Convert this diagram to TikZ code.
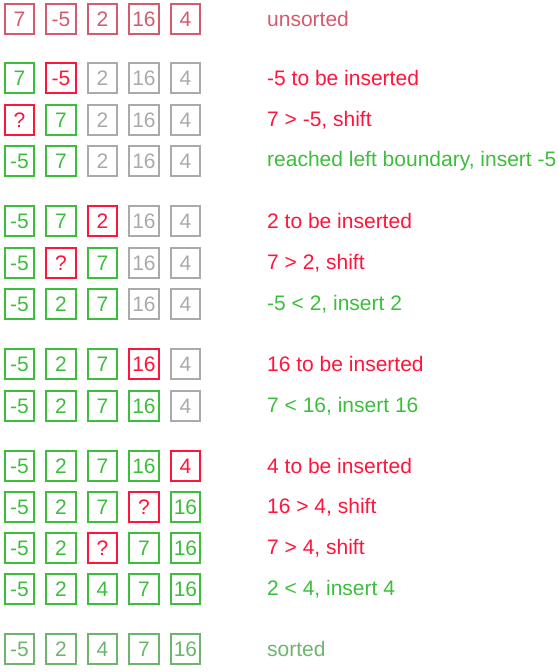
\documentclass[tikz,border=0pt]{standalone}
\usepackage{fontspec}
\setmainfont{Liberation Sans}
\definecolor{oldred}{RGB}{212,90,110}
\definecolor{hotred}{RGB}{255,20,60}
\definecolor{donegreen}{RGB}{60,190,60}
\definecolor{idlegray}{RGB}{170,170,170}
\definecolor{finalgreen}{RGB}{110,180,110}
\tikzset{
  cell/.style={draw, line width=1.6pt, minimum size=29.5pt, inner sep=0pt},
  note/.style={anchor=west, inner sep=0pt},
  old/.style={draw=oldred, text=oldred},
  hot/.style={draw=hotred, text=hotred},
  done/.style={draw=donegreen, text=donegreen},
  idle/.style={draw=idlegray, text=idlegray},
  final/.style={draw=finalgreen, text=finalgreen}
}
\begin{document}
\begin{tikzpicture}[x=1pt, y=-1pt, font=\fontsize{21}{25}\selectfont]
      \useasboundingbox (0,0) rectangle (558,672);
      % unsorted
      \draw
        (19.5,19) node[cell,old] (a0){7}
        (61,19) node[cell,old] (a1){-5}
        (102.5,19) node[cell,old] (a2){2}
        (144,19) node[cell,old] (a3){16}
        (185.5,19) node[cell,old] (a4){4}
        (267,19) node[note,text=oldred] (a){unsorted};
      % insert -5
      \draw
        (19.5,78) node[cell,done] (b0){7}
        (61,78) node[cell,hot] (b1){-5}
        (102.5,78) node[cell,idle] (b2){2}
        (144,78) node[cell,idle] (b3){16}
        (185.5,78) node[cell,idle] (b4){4}
        (267,78) node[note,text=hotred] (b){-5 to be inserted};
      \draw
        (19.5,120) node[cell,hot] (c0){?}
        (61,120) node[cell,done] (c1){7}
        (102.5,120) node[cell,idle] (c2){2}
        (144,120) node[cell,idle] (c3){16}
        (185.5,120) node[cell,idle] (c4){4}
        (267,120) node[note,text=hotred] (c){7 > -5, shift};
      \draw
        (19.5,161) node[cell,done] (d0){-5}
        (61,161) node[cell,done] (d1){7}
        (102.5,161) node[cell,idle] (d2){2}
        (144,161) node[cell,idle] (d3){16}
        (185.5,161) node[cell,idle] (d4){4}
        (267,161) node[note,text=donegreen] (d){reached left boundary, insert -5};
      % insert 2
      \draw
        (19.5,221) node[cell,done] (e0){-5}
        (61,221) node[cell,done] (e1){7}
        (102.5,221) node[cell,hot] (e2){2}
        (144,221) node[cell,idle] (e3){16}
        (185.5,221) node[cell,idle] (e4){4}
        (267,221) node[note,text=hotred] (e){2 to be inserted};
      \draw
        (19.5,263) node[cell,done] (f0){-5}
        (61,263) node[cell,hot] (f1){?}
        (102.5,263) node[cell,done] (f2){7}
        (144,263) node[cell,idle] (f3){16}
        (185.5,263) node[cell,idle] (f4){4}
        (267,263) node[note,text=hotred] (f){7 > 2, shift};
      \draw
        (19.5,304) node[cell,done] (g0){-5}
        (61,304) node[cell,done] (g1){2}
        (102.5,304) node[cell,done] (g2){7}
        (144,304) node[cell,idle] (g3){16}
        (185.5,304) node[cell,idle] (g4){4}
        (267,304) node[note,text=donegreen] (g){-5 < 2, insert 2};
      % insert 16
      \draw
        (19.5,364) node[cell,done] (h0){-5}
        (61,364) node[cell,done] (h1){2}
        (102.5,364) node[cell,done] (h2){7}
        (144,364) node[cell,hot] (h3){16}
        (185.5,364) node[cell,idle] (h4){4}
        (267,364) node[note,text=hotred] (h){16 to be inserted};
      \draw
        (19.5,406) node[cell,done] (i0){-5}
        (61,406) node[cell,done] (i1){2}
        (102.5,406) node[cell,done] (i2){7}
        (144,406) node[cell,done] (i3){16}
        (185.5,406) node[cell,idle] (i4){4}
        (267,406) node[note,text=donegreen] (i){7 < 16, insert 16};
      % insert 4
      \draw
        (19.5,466) node[cell,done] (j0){-5}
        (61,466) node[cell,done] (j1){2}
        (102.5,466) node[cell,done] (j2){7}
        (144,466) node[cell,done] (j3){16}
        (185.5,466) node[cell,hot] (j4){4}
        (267,466) node[note,text=hotred] (j){4 to be inserted};
      \draw
        (19.5,507) node[cell,done] (k0){-5}
        (61,507) node[cell,done] (k1){2}
        (102.5,507) node[cell,done] (k2){7}
        (144,507) node[cell,hot] (k3){?}
        (185.5,507) node[cell,done] (k4){16}
        (267,507) node[note,text=hotred] (k){16 > 4, shift};
      \draw
        (19.5,548) node[cell,done] (l0){-5}
        (61,548) node[cell,done] (l1){2}
        (102.5,548) node[cell,hot] (l2){?}
        (144,548) node[cell,done] (l3){7}
        (185.5,548) node[cell,done] (l4){16}
        (267,548) node[note,text=hotred] (l){7 > 4, shift};
      \draw
        (19.5,589) node[cell,done] (m0){-5}
        (61,589) node[cell,done] (m1){2}
        (102.5,589) node[cell,done] (m2){4}
        (144,589) node[cell,done] (m3){7}
        (185.5,589) node[cell,done] (m4){16}
        (267,589) node[note,text=donegreen] (m){2 < 4, insert 4};
      % sorted
      \draw
        (19.5,649) node[cell,final] (n0){-5}
        (61,649) node[cell,final] (n1){2}
        (102.5,649) node[cell,final] (n2){4}
        (144,649) node[cell,final] (n3){7}
        (185.5,649) node[cell,final] (n4){16}
        (267,649) node[note,text=finalgreen] (n){sorted};
    \end{tikzpicture}
\end{document}
